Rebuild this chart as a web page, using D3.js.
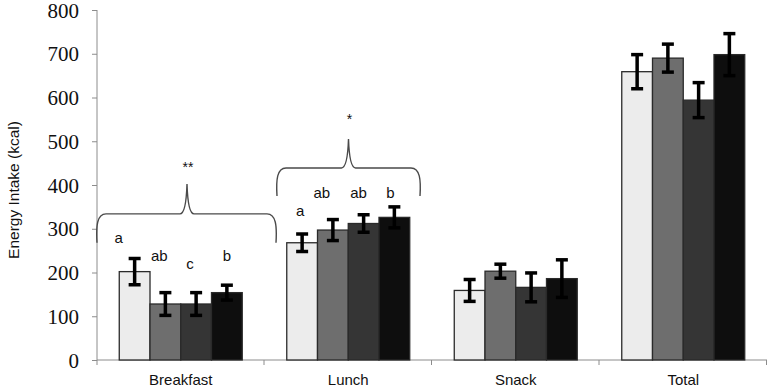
<!DOCTYPE html>
<html>
<head>
<meta charset="utf-8">
<script src="https://cdn.jsdelivr.net/npm/d3@7"></script>
<style>
  body { margin: 0; background: #fff; }
  svg { display: block; }
  .sans { font-family: "Liberation Sans", Arial, sans-serif; }
  .serif { font-family: "Liberation Serif", "Times New Roman", serif; }
</style>
</head>
<body>
<div id="chart"></div>
<script>
// chart values
const categories = ['Breakfast', 'Lunch', 'Snack', 'Total'];
const series = ['s1', 's2', 's3', 's4'];
const colors = ['#ececec', '#6e6e6e', '#353535', '#0e0e0e'];

const breakfastMean = [202, 128, 128, 154];
const breakfastErr  = [30, 26, 26, 17];
const lunchMean     = [268, 297, 312, 326];
const lunchErr      = [20, 24, 20, 24];
const snackMean     = [159, 203, 166, 186];
const snackErr      = [25, 16, 33, 43];
const totalMean     = [659, 690, 594, 698];
const totalErr      = [39, 32, 40, 48];

const yTicks = [0, 100, 200, 300, 400, 500, 600, 700, 800];

// significance letters over the bars
const breakfastLetters = ['a', 'ab', 'c', 'b'];
const lunchLetters     = ['a', 'ab', 'ab', 'b'];

const means = [breakfastMean, lunchMean, snackMean, totalMean];
const errs = [breakfastErr, lunchErr, snackErr, totalErr];

function drawChart() {
    const width = 768, height = 387;
    const margin = { top: 10, right: 1, bottom: 27, left: 97 };

    const svg = d3.create('svg')
        .attr('width', width)
        .attr('height', height);

    const x0 = d3.scaleBand()
        .domain(categories)
        .range([margin.left, width - margin.right]);

    const x1 = d3.scaleBand()
        .domain(series)
        .range([0, x0.bandwidth()])
        .paddingOuter(0.724);

    const y = d3.scaleLinear()
        .domain([0, 800])
        .range([height - margin.bottom, margin.top]);

    const rows = [];
    categories.forEach((c, ci) => {
        series.forEach((s, si) => {
            rows.push({ cat: c, s: s, i: si, v: means[ci][si], e: errs[ci][si] });
        });
    });

    // y axis
    const yAxis = svg.append('g')
        .attr('transform', `translate(${margin.left},0)`)
        .call(d3.axisLeft(y).tickValues(yTicks).tickSize(5).tickPadding(13));
    yAxis.attr('font-family', null).attr('font-size', null);
    yAxis.select('.domain').attr('stroke', '#8c8c8c').attr('d', `M0,${y(800)}V${y(0) + 5}`);
    yAxis.selectAll('.tick line').attr('stroke', '#8c8c8c');
    yAxis.selectAll('.tick text')
        .attr('class', 'serif')
        .attr('fill', '#111')
        .attr('dy', '0.34em')
        .style('font-size', '21px');

    // x axis
    const xg = svg.append('g')
        .attr('transform', `translate(0,${y(0)})`);
    xg.append('line')
        .attr('x1', margin.left).attr('x2', width - margin.right)
        .attr('stroke', '#8c8c8c');
    const bounds = categories.map(c => x0(c)).concat([x0(categories[3]) + x0.bandwidth()]);
    xg.selectAll('line.tk')
        .data(bounds.slice(1))
        .join('line')
        .attr('class', 'tk')
        .attr('x1', d => d - 0.5).attr('x2', d => d - 0.5)
        .attr('y1', 0).attr('y2', 5)
        .attr('stroke', '#8c8c8c');
    xg.selectAll('text')
        .data(categories)
        .join('text')
        .attr('class', 'sans')
        .attr('x', d => x0(d) + x0.bandwidth() / 2)
        .attr('y', 25)
        .attr('text-anchor', 'middle')
        .attr('fill', '#111')
        .style('font-size', '15px')
        .text(d => d);

    // axis title
    svg.append('text')
        .attr('class', 'sans')
        .attr('transform', 'translate(19,190) rotate(-90)')
        .attr('text-anchor', 'middle')
        .attr('fill', '#111')
        .style('font-size', '15.5px')
        .text('Energy Intake (kcal)');

    // bars
    svg.append('g')
        .selectAll('rect')
        .data(rows)
        .join('rect')
        .attr('x', d => x0(d.cat) + x1(d.s))
        .attr('y', d => y(d.v))
        .attr('width', x1.bandwidth())
        .attr('height', d => y(0) - y(d.v))
        .attr('fill', d => colors[d.i])
        .attr('stroke', '#2a2a2a')
        .attr('stroke-width', 1.3);

    // error bars
    const eb = svg.append('g')
        .attr('stroke', '#000')
        .attr('stroke-width', 3.5);
    const cx = d => x0(d.cat) + x1(d.s) + x1.bandwidth() / 2;
    eb.selectAll('line.v')
        .data(rows)
        .join('line')
        .attr('class', 'v')
        .attr('x1', cx).attr('x2', cx)
        .attr('y1', d => y(d.v + d.e)).attr('y2', d => y(d.v - d.e));
    eb.selectAll('line.top')
        .data(rows)
        .join('line')
        .attr('class', 'top')
        .attr('x1', d => cx(d) - 6).attr('x2', d => cx(d) + 6)
        .attr('y1', d => y(d.v + d.e)).attr('y2', d => y(d.v + d.e));
    eb.selectAll('line.bot')
        .data(rows)
        .join('line')
        .attr('class', 'bot')
        .attr('x1', d => cx(d) - 6).attr('x2', d => cx(d) + 6)
        .attr('y1', d => y(d.v - d.e)).attr('y2', d => y(d.v - d.e));

    // letters
    const letterSets = [
        { cat: 'Breakfast', letters: breakfastLetters, level: [268, 227, 207, 227], dx: [-16, -6, -6, 0] },
        { cat: 'Lunch', letters: lunchLetters, level: [330, 370, 370, 370], dx: [-2, -11, -5, -4] }
    ];
    letterSets.forEach(set => {
        svg.append('g')
            .selectAll('text')
            .data(set.letters)
            .join('text')
            .attr('class', 'sans')
            .attr('x', (d, i) => x0(set.cat) + x1(series[i]) + x1.bandwidth() / 2 + set.dx[i])
            .attr('y', (d, i) => y(set.level[i]))
            .attr('text-anchor', 'middle')
            .attr('fill', '#111')
            .style('font-size', '15px')
            .text(d => d);
    });

    // curly braces with significance stars
    const braces = [
        { cat: 'Breakfast', from: 0, to: 179, mid: 90, level: 334, tip: 402, foot: 268, mark: '**', markAt: 430 },
        { cat: 'Lunch', from: 12.5, to: 155.5, mid: 84, level: 439, tip: 505, foot: 375, mark: '*', markAt: 539 }
    ];
    braces.forEach(b => {
        const a = x0(b.cat) + b.from, z = x0(b.cat) + b.to, m = x0(b.cat) + b.mid;
        const h = y(b.level), t = y(b.tip), f = y(b.foot);
        const p = d3.path();
        p.moveTo(a, f);
        p.bezierCurveTo(a - 1, h + 12, a, h, a + 9, h);
        p.lineTo(m - 7, h);
        p.quadraticCurveTo(m - 1, h, m, t);
        p.quadraticCurveTo(m + 1, h, m + 7, h);
        p.lineTo(z - 9, h);
        p.bezierCurveTo(z, h, z + 1, h + 12, z, f);
        svg.append('path')
            .attr('d', p.toString())
            .attr('fill', 'none')
            .attr('stroke', '#4a4a4a')
            .attr('stroke-width', 1.4);
        svg.append('text')
            .attr('class', 'sans')
            .attr('x', m + 1)
            .attr('y', y(b.markAt))
            .attr('text-anchor', 'middle')
            .attr('fill', '#111')
            .style('font-size', '14px')
            .text(b.mark);
    });

    document.getElementById('chart').appendChild(svg.node());
}

drawChart();
</script>
</body>
</html>
